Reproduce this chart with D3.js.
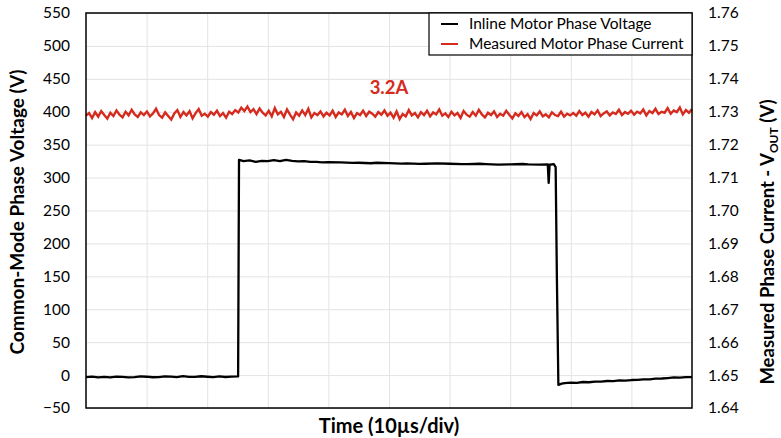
<!DOCTYPE html>
<html>
<head>
<meta charset="utf-8">
<script src="https://cdn.jsdelivr.net/npm/d3@7"></script>
<style>
  body { margin: 0; background: #fff; }
  text { font-family: Lato, "Open Sans", sans-serif; }
</style>
</head>
<body>
<script>
const width = 781,
  height = 438,
  marginTop = 13,
  marginRight = 89,
  marginBottom = 30,
  marginLeft = 86;

// time axis, microseconds (10 divisions of 10us)
const timeDomain = [0, 100];
const leftTicks = [-50, 0, 50, 100, 150, 200, 250, 300, 350, 400, 450, 500, 550];
const rightTicks = [1.64, 1.65, 1.66, 1.67, 1.68, 1.69, 1.70, 1.71, 1.72, 1.73, 1.74, 1.75, 1.76];
const timeGrid = [10, 20, 30, 40, 50, 60, 70, 80, 90];

// inline motor phase voltage: [time us, volts]
const phaseVoltage = [
  [0, -3], [1, -2.2], [2, -3.4], [3, -2.6], [4, -3.5], [5, -2.4], [6, -2.8], [7, -3.6],
  [8, -3.2], [9, -2.1], [10, -2.5], [11, -3.3], [12, -3], [13, -2.1], [14, -2.2],
  [15, -3.1], [16, -1.5], [17, -2.6], [18, -2.8], [19, -1.8], [20, -2.5], [21, -3.2],
  [22, -2], [23, -2.9], [24, -2.4], [25.1, -2],
  [25.25, 327], [26, 325], [27, 326], [28, 324], [29, 325.5], [30, 325], [31, 326.5],
  [32, 325], [33, 327], [34, 325.5], [35, 324.5], [36, 325], [37, 323.8], [38, 324],
  [39, 323], [40, 323.5], [42, 323], [44, 322.2], [45, 322.5], [47, 321.8], [48, 322.5],
  [50, 322], [52, 321.3], [53, 321.5], [55, 320.8], [56, 321], [58, 321.6], [60, 321],
  [62, 320.3], [63, 320.5], [65, 321], [66, 320.5], [68, 319.8], [70, 320], [72, 320.6],
  [73, 320], [75, 319.6], [76.2, 320], [76.35, 292], [76.5, 319.5],
  [77.2, 320.5], [77.5, 316], [77.7, 150], [77.95, -15], [78.5, -13], [79, -12.2], [80, -11.5],
  [81, -11.8], [82, -10.5], [83, -10.9], [84, -10], [85, -9.8], [86, -9], [87, -9.3],
  [88, -8], [89, -8.4], [90, -7.5], [91, -7.2], [92, -6.5], [93, -6.6], [94, -5.5],
  [95, -5.2], [96, -4.5], [97, -3.6], [98, -4], [99, -3.2], [100, -3]
];

// measured motor phase current sensor output (VOUT, volts), evenly sampled over 0..100 us
const phaseCurrent = [
  1.7288,1.7296,1.7281,1.7299,1.7285,1.7302,1.7290,1.7279,1.7297,1.7287,1.7304,1.7291,1.7283,1.7300,1.7289,1.7306,1.7292,1.7284,1.7298,1.7290,
  1.7301,1.7286,1.7295,1.7309,1.7290,1.7282,1.7298,1.7287,1.7276,1.7295,1.7305,1.7284,1.7299,1.7289,1.7302,1.7280,1.7296,1.7308,1.7288,1.7294,
  1.7285,1.7299,1.7291,1.7303,1.7287,1.7296,1.7282,1.7300,1.7293,1.7305,1.7298,1.7312,1.7302,1.7316,1.7299,1.7308,1.7293,1.7310,1.7297,1.7289,
  1.7303,1.7286,1.7311,1.7292,1.7300,1.7284,1.7307,1.7291,1.7277,1.7298,1.7288,1.7304,1.7290,1.7309,1.7283,1.7296,1.7290,1.7301,1.7286,1.7297,
  1.7289,1.7303,1.7284,1.7298,1.7292,1.7306,1.7287,1.7299,1.7281,1.7296,1.7290,1.7303,1.7287,1.7300,1.7294,1.7285,1.7299,1.7291,1.7304,1.7288,
  1.7297,1.7282,1.7301,1.7278,1.7293,1.7286,1.7305,1.7289,1.7296,1.7283,1.7299,1.7290,1.7303,1.7286,1.7298,1.7292,1.7307,1.7288,1.7295,1.7284,
  1.7300,1.7289,1.7296,1.7281,1.7302,1.7291,1.7285,1.7299,1.7288,1.7306,1.7292,1.7283,1.7297,1.7290,1.7301,1.7284,1.7294,1.7288,1.7303,1.7291,
  1.7280,1.7295,1.7287,1.7299,1.7284,1.7293,1.7278,1.7296,1.7289,1.7301,1.7286,1.7292,1.7283,1.7298,1.7290,1.7287,1.7300,1.7285,1.7294,1.7289,
  1.7296,1.7288,1.7302,1.7290,1.7297,1.7285,1.7299,1.7292,1.7304,1.7287,1.7295,1.7301,1.7289,1.7298,1.7293,1.7306,1.7290,1.7299,1.7294,1.7303,
  1.7291,1.7300,1.7295,1.7307,1.7289,1.7302,1.7296,1.7309,1.7293,1.7300,1.7297,1.7311,1.7294,1.7304,1.7299,1.7313,1.7292,1.7305,1.7297,1.7308
];

const seriesNames = ["Inline Motor Phase Voltage", "Measured Motor Phase Current"];
const seriesColors = ["#000000", "#d52b1e"];
const currentLabel = "3.2A";

const x = d3.scaleLinear().domain(timeDomain).range([marginLeft, width - marginRight]);
const y = d3.scaleLinear().domain([-50, 550]).range([height - marginBottom, marginTop]);
const y2 = d3.scaleLinear().domain([1.64, 1.76]).range([height - marginBottom, marginTop]);

const svg = d3.select("body").append("svg")
  .attr("width", width)
  .attr("height", height);

// grid
svg.append("g")
  .attr("transform", `translate(${marginLeft},0)`)
  .call(d3.axisLeft(y).tickValues(leftTicks).tickSize(-(width - marginLeft - marginRight)).tickFormat(""))
  .call(g => g.select(".domain").remove())
  .call(g => g.selectAll("line").attr("stroke", "#e3e3e3").attr("stroke-width", 1));

svg.append("g")
  .attr("transform", `translate(0,${height - marginBottom})`)
  .call(d3.axisBottom(x).tickValues(timeGrid).tickSize(-(height - marginTop - marginBottom)).tickFormat(""))
  .call(g => g.select(".domain").remove())
  .call(g => g.selectAll("line").attr("stroke", "#e3e3e3").attr("stroke-width", 1));

// left axis labels
svg.append("g")
  .attr("transform", `translate(${marginLeft},0)`)
  .call(d3.axisLeft(y).tickValues(leftTicks).tickSize(0).tickPadding(16))
  .call(g => g.select(".domain").remove())
  .call(g => g.selectAll("text").attr("font-size", 15.5).attr("fill", "#000").style("font-family", "Lato, sans-serif"));

// right axis labels
svg.append("g")
  .attr("transform", `translate(${width - marginRight},0)`)
  .call(d3.axisRight(y2).tickValues(rightTicks).tickSize(0).tickPadding(16).tickFormat(d3.format(".2f")))
  .call(g => g.select(".domain").remove())
  .call(g => g.selectAll("text").attr("font-size", 15.5).attr("fill", "#000").style("font-family", "Lato, sans-serif"));

// current trace
const dt = (timeDomain[1] - timeDomain[0]) / (phaseCurrent.length - 1);
svg.append("path")
  .datum(phaseCurrent)
  .attr("fill", "none")
  .attr("stroke", seriesColors[1])
  .attr("stroke-width", 2.4)
  .attr("d", d3.line().x((d, i) => x(i * dt)).y(d => y2(d)));

// voltage trace
svg.append("path")
  .datum(phaseVoltage)
  .attr("fill", "none")
  .attr("stroke", seriesColors[0])
  .attr("stroke-width", 2.3)
  .attr("stroke-linejoin", "round")
  .attr("d", d3.line().x(d => x(d[0])).y(d => y(d[1])));

// frame
svg.append("rect")
  .attr("x", marginLeft)
  .attr("y", marginTop)
  .attr("width", width - marginLeft - marginRight)
  .attr("height", height - marginTop - marginBottom)
  .attr("fill", "none")
  .attr("stroke", "#000")
  .attr("stroke-width", 1.5);

// current annotation
svg.append("text")
  .attr("x", 389)
  .attr("y", 94)
  .attr("text-anchor", "middle")
  .attr("font-size", 18.5)
  .attr("font-weight", "bold")
  .attr("fill", seriesColors[1])
  .text(currentLabel);

// legend
const legend = svg.append("g");
legend.append("rect")
  .attr("x", 429).attr("y", marginTop)
  .attr("width", width - marginRight - 429).attr("height", 42)
  .attr("fill", "#fff").attr("stroke", "#000").attr("stroke-width", 1.2);
seriesNames.forEach((name, i) => {
  const ly = marginTop + 11 + i * 20;
  legend.append("line")
    .attr("x1", 441).attr("x2", 458).attr("y1", ly).attr("y2", ly)
    .attr("stroke", seriesColors[i]).attr("stroke-width", 2);
  legend.append("text")
    .attr("x", 469).attr("y", ly + 5)
    .attr("font-size", 15.5)
    .text(name);
});

// axis titles
svg.append("text")
  .attr("transform", `translate(24,${212}) rotate(-90)`)
  .attr("text-anchor", "middle")
  .attr("font-size", 19)
  .attr("font-weight", "bold")
  .text("Common-Mode Phase Voltage (V)");

const rt = svg.append("text")
  .attr("transform", `translate(774,${242}) rotate(-90)`)
  .attr("text-anchor", "middle")
  .attr("font-size", 18.5)
  .attr("font-weight", "bold");
rt.append("tspan").text("Measured Phase Current - V");
rt.append("tspan").attr("font-size", 12).attr("dy", 4).text("OUT");
rt.append("tspan").attr("dy", -4).text(" (V)");

svg.append("text")
  .attr("x", (marginLeft + width - marginRight) / 2)
  .attr("y", 433)
  .attr("text-anchor", "middle")
  .attr("font-size", 20)
  .attr("font-weight", "bold")
  .text("Time (10\u00b5s/div)");
</script>
</body>
</html>
